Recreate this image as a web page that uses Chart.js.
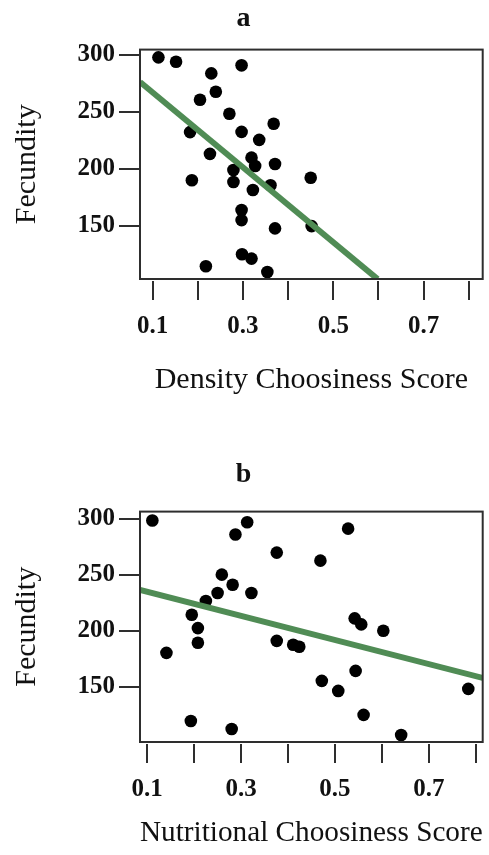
<!DOCTYPE html>
<html>
<head>
<meta charset="utf-8">
<script src="https://cdn.jsdelivr.net/npm/chart.js@4/dist/chart.umd.min.js"></script>
<style>
  html, body { margin: 0; padding: 0; background: #fff; }
  canvas { display: block; }
</style>
</head>
<body>
<canvas id="panelA" width="489" height="420"></canvas>
<canvas id="panelB" width="489" height="435"></canvas>
<script>
// Panel a: fecundity against density choosiness
const densityScore = [0.113, 0.152, 0.297, 0.230, 0.240, 0.205, 0.270, 0.368, 0.183, 0.297,
  0.336, 0.227, 0.319, 0.327, 0.371, 0.279, 0.187, 0.279, 0.450, 0.361,
  0.322, 0.297, 0.297, 0.371, 0.452, 0.298, 0.319, 0.218, 0.354];
const densityFecundity = [297.6, 293.8, 290.6, 283.5, 267.4, 260.4, 248.1, 239.3, 232.0, 232.2,
  225.2, 212.9, 209.6, 202.3, 204.0, 198.8, 189.7, 188.2, 192.0, 185.3,
  181.2, 163.6, 154.8, 147.5, 149.5, 124.8, 121.0, 114.3, 109.2];
// fitted regression line, endpoints on the axis bounds
const densityFitX = [0.0722, 0.598];
const densityFitY = [276.0, 103.1];

// Panel b: fecundity against nutritional choosiness
const nutritionScore = [0.111, 0.313, 0.288, 0.528, 0.376, 0.469, 0.259, 0.282, 0.250, 0.322,
  0.225, 0.195, 0.208, 0.208, 0.141, 0.376, 0.411, 0.424, 0.542, 0.556,
  0.603, 0.544, 0.472, 0.507, 0.784, 0.561, 0.193, 0.280, 0.641];
const nutritionFecundity = [298.5, 297.0, 286.0, 291.3, 269.9, 262.7, 250.2, 241.2, 233.8, 233.8,
  226.7, 214.4, 202.5, 189.4, 180.4, 191.1, 187.6, 185.8, 211.2, 205.8,
  200.1, 164.3, 155.4, 146.4, 148.2, 125.0, 119.6, 112.4, 107.1];
const nutritionFitX = [0.0847, 0.8147];
const nutritionFitY = [236.5, 158.0];

// axis ticks
const xTickValues = [0.1, 0.2, 0.3, 0.4, 0.5, 0.6, 0.7, 0.8];
const xTickLabels = ['0.1', '', '0.3', '', '0.5', '', '0.7', ''];
const yTickValues = [150, 200, 250, 300];
const yTickLabels = ['150', '200', '250', '300'];

const SERIF = '"Liberation Serif", "Times New Roman", serif';
const INK = '#111111';
const FRAME = '#2e2e2e';
const GREEN = '#508c55';

// frame around the plotting region, plus x tick marks set slightly below it
const frameBox = {
  id: 'frameBox',
  afterDatasetsDraw(chart) {
    const a = chart.chartArea;
    const ctx = chart.ctx;
    const xs = chart.scales.x;
    ctx.save();
    ctx.strokeStyle = FRAME;
    ctx.lineWidth = 2;
    ctx.strokeRect(a.left, a.top, a.right - a.left, a.bottom - a.top);
    ctx.beginPath();
    xTickValues.forEach(v => {
      const px = Math.round(xs.getPixelForValue(v));
      ctx.moveTo(px, a.bottom + 2);
      ctx.lineTo(px, a.bottom + 21);
    });
    ctx.stroke();
    ctx.restore();
  }
};

function toPoints(xs, ys) {
  return xs.map((x, i) => ({ x: x, y: ys[i] }));
}

function makePanel(id, cfg) {
  return new Chart(document.getElementById(id), {
    type: 'scatter',
    data: {
      datasets: [
        {
          type: 'line',
          data: toPoints(cfg.fitX, cfg.fitY),
          borderColor: GREEN,
          borderWidth: 6,
          pointRadius: 0,
          fill: false,
          clip: 0,
          order: 0
        },
        {
          data: toPoints(cfg.xs, cfg.ys),
          backgroundColor: '#000',
          borderWidth: 0,
          pointRadius: 6.3,
          pointHoverRadius: 6.3,
          order: 1
        }
      ]
    },
    options: {
      responsive: false,
      animation: false,
      devicePixelRatio: 1,
      layout: { padding: { left: 0, right: 2, top: 0, bottom: 0 } },
      plugins: {
        legend: { display: false },
        tooltip: { enabled: false },
        title: {
          display: true,
          text: cfg.title,
          color: INK,
          font: { family: SERIF, size: 28, weight: 'bold', lineHeight: 1.2 },
          padding: cfg.titlePad
        }
      },
      scales: {
        x: {
          type: 'linear',
          min: cfg.xMin,
          max: cfg.xMax,
          afterBuildTicks: s => { s.ticks = xTickValues.map(v => ({ value: v })); },
          afterFit: s => { s.height = cfg.xAxisHeight; },
          ticks: {
            autoSkip: false,
            maxRotation: 0,
            color: INK,
            padding: 12,
            font: { family: SERIF, size: 25, weight: 'bold' },
            callback: (v, i) => xTickLabels[i]
          },
          // tick space reserved here; the visible marks come from frameBox
          grid: { drawOnChartArea: false, drawTicks: true, tickLength: 21, color: 'rgba(0,0,0,0)' },
          border: { display: false },
          title: {
            display: true,
            text: cfg.xTitle,
            color: INK,
            font: { family: SERIF, size: 30 },
            padding: { top: 0, bottom: cfg.xTitlePad }
          }
        },
        y: {
          type: 'linear',
          min: cfg.yMin,
          max: cfg.yMax,
          afterBuildTicks: s => { s.ticks = yTickValues.map(v => ({ value: v })); },
          afterFit: s => { s.width = 140; },
          ticks: {
            autoSkip: false,
            color: INK,
            padding: 4,
            font: { family: SERIF, size: 25, weight: 'bold' },
            callback: (v, i) => yTickLabels[i]
          },
          grid: { drawOnChartArea: false, drawTicks: true, tickLength: 21, lineWidth: 2, color: FRAME },
          border: { display: false },
          title: {
            display: true,
            text: 'Fecundity',
            color: INK,
            font: { family: SERIF, size: 30 },
            padding: { top: 9, bottom: 0 }
          }
        }
      }
    },
    plugins: [frameBox]
  });
}

makePanel('panelA', {
  title: 'a',
  titlePad: { top: 2, bottom: 14 },
  xs: densityScore, ys: densityFecundity,
  fitX: densityFitX, fitY: densityFitY,
  xMin: 0.0722, xMax: 0.8306,
  yMin: 103.1, yMax: 304.4,
  xAxisHeight: 141,
  xTitle: 'Density Choosiness Score',
  xTitlePad: 22
});

makePanel('panelB', {
  title: 'b',
  titlePad: { top: 38, bottom: 20 },
  xs: nutritionScore, ys: nutritionFecundity,
  fitX: nutritionFitX, fitY: nutritionFitY,
  xMin: 0.0847, xMax: 0.8147,
  yMin: 100.8, yMax: 306.5,
  xAxisHeight: 113,
  xTitle: 'Nutritional Choosiness Score',
  xTitlePad: 4
});
</script>
</body>
</html>
